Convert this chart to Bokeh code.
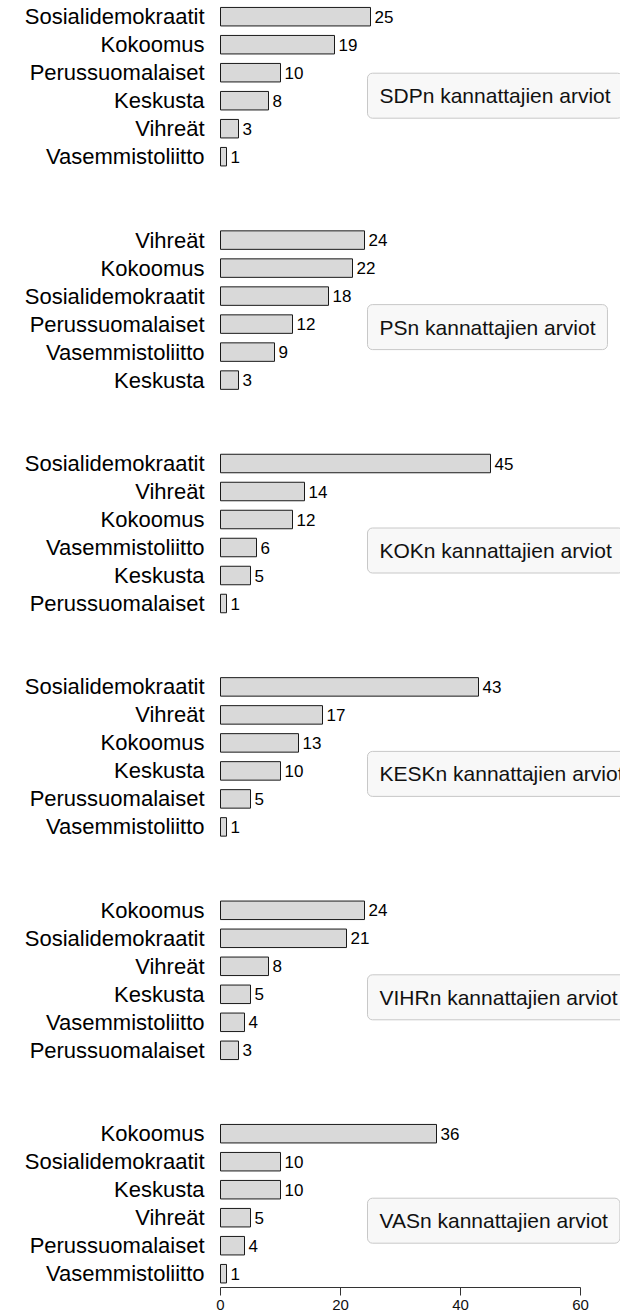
from bokeh.plotting import figure
from bokeh.models import ColumnDataSource, Range1d, Label, FixedTicker
from bokeh.core.properties import value
from bokeh.embed import file_html
from bokeh.resources import INLINE

# ---- data ----
titles = ["SDPn kannattajien arviot", "PSn kannattajien arviot", "KOKn kannattajien arviot",
          "KESKn kannattajien arviot", "VIHRn kannattajien arviot", "VASn kannattajien arviot"]
cats_sdp = ["Sosialidemokraatit", "Kokoomus", "Perussuomalaiset", "Keskusta", "Vihreät", "Vasemmistoliitto"]
vals_sdp = [25, 19, 10, 8, 3, 1]
cats_ps = ["Vihreät", "Kokoomus", "Sosialidemokraatit", "Perussuomalaiset", "Vasemmistoliitto", "Keskusta"]
vals_ps = [24, 22, 18, 12, 9, 3]
cats_kok = ["Sosialidemokraatit", "Vihreät", "Kokoomus", "Vasemmistoliitto", "Keskusta", "Perussuomalaiset"]
vals_kok = [45, 14, 12, 6, 5, 1]
cats_kesk = ["Sosialidemokraatit", "Vihreät", "Kokoomus", "Keskusta", "Perussuomalaiset", "Vasemmistoliitto"]
vals_kesk = [43, 17, 13, 10, 5, 1]
cats_vihr = ["Kokoomus", "Sosialidemokraatit", "Vihreät", "Keskusta", "Vasemmistoliitto", "Perussuomalaiset"]
vals_vihr = [24, 21, 8, 5, 4, 3]
cats_vas = ["Kokoomus", "Sosialidemokraatit", "Keskusta", "Vihreät", "Perussuomalaiset", "Vasemmistoliitto"]
vals_vas = [36, 10, 10, 5, 4, 1]
x_ticks = [0, 20, 40, 60]

panels = [(cats_sdp, vals_sdp), (cats_ps, vals_ps), (cats_kok, vals_kok),
          (cats_kesk, vals_kesk), (cats_vihr, vals_vihr), (cats_vas, vals_vas)]

# ---- layout (pixel-like y units) ----
FRAME_W, FRAME_H = 620, 1287
PX_PER_UNIT = 6.0
ZERO_PX = 220
ROW_STEP = 28.0
PANEL_STEP = 223.4
TOP = 16.2
BOX_OFFSET = [79, 87, 87, 87, 87, 87]

ys, cats, vals = [], [], []
for i, (c, v) in enumerate(panels):
    for j in range(len(c)):
        ys.append(TOP + i * PANEL_STEP + j * ROW_STEP)
        cats.append(c[j])
        vals.append(v[j])
src = ColumnDataSource(dict(y=ys, cat=cats, val=vals, lab=[str(v) for v in vals]))

p = figure(frame_width=FRAME_W, frame_height=FRAME_H, output_backend="svg", toolbar_location=None,
           x_range=Range1d(-ZERO_PX / PX_PER_UNIT, (FRAME_W - ZERO_PX) / PX_PER_UNIT),
           y_range=Range1d(FRAME_H, 0), y_axis_location=None,
           min_border_left=0, min_border_right=0, min_border_top=0, min_border_bottom=0)
p.outline_line_color = None
p.xgrid.visible = False
p.ygrid.visible = False
p.background_fill_color = "white"

p.hbar(y="y", left=0, right="val", height=18.5, source=src,
       fill_color="#d9d9d9", line_color="#1a1a1a", line_width=1)

p.text(x=0, y="y", text="cat", source=src, x_offset=-16, text_align="right",
       text_baseline="middle", text_font=value("Liberation Sans"), text_font_size="22px",
       text_color="#000000")
p.text(x="val", y="y", text="lab", source=src, x_offset=4, text_align="left",
       text_baseline="middle", text_font=value("Liberation Sans"), text_font_size="17px",
       text_color="#000000")

for i, t in enumerate(titles):
    lab = Label(x=24.5, y=TOP + i * PANEL_STEP + BOX_OFFSET[i], text=t,
                text_align="left", text_baseline="middle",
                text_font="Liberation Sans", text_font_size="21px", text_color="#111111",
                background_fill_color="#f8f8f8", border_line_color="#c8c8c8",
                border_line_width=1, border_radius=5,
                padding=dict(left=12, right=12, top=11, bottom=11))
    p.add_layout(lab)

ax = p.xaxis[0]
ax.ticker = FixedTicker(ticks=x_ticks)
ax.bounds = (0, 60)
ax.axis_line_color = "#333333"
ax.major_tick_line_color = "#333333"
ax.minor_tick_line_color = None
ax.major_tick_out = 8
ax.major_tick_in = 0
ax.major_label_standoff = 4
ax.major_label_text_font = "Liberation Sans"
ax.major_label_text_font_size = "15px"
ax.major_label_text_color = "#111111"

open("out.html", "w").write(file_html(p, INLINE))
